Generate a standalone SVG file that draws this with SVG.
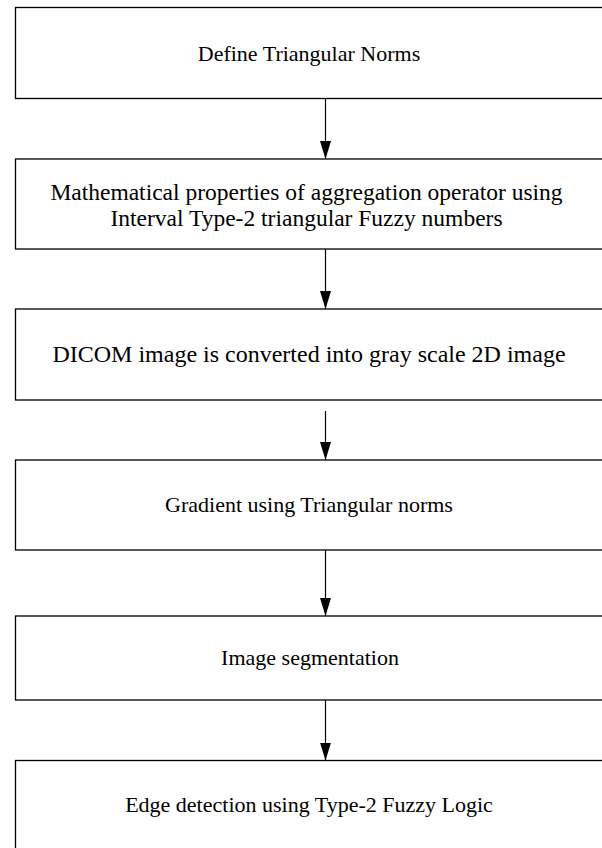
<svg xmlns="http://www.w3.org/2000/svg" width="602" height="848" viewBox="0 0 602 848">
  <style>
    .box { fill: #ffffff; stroke: #000000; stroke-width: 1.3; }
    .lbl { font-family: "Liberation Serif", "Times New Roman", serif; font-size: 22px; fill: #000000; text-anchor: middle; }
    .big { font-size: 24px; }
    .mid { font-size: 23.5px; }
    .conn { stroke: #000000; stroke-width: 1.2; fill: none; marker-end: url(#arrow); }
  </style>
  <defs>
    <marker id="arrow" viewBox="0 -6 18 12" refX="18" refY="0" markerWidth="18" markerHeight="12" markerUnits="userSpaceOnUse" orient="auto">
      <path d="M0,-5.5 L18,0 L0,5.5 Z" fill="#000000"/>
    </marker>
  </defs>
  <rect width="602" height="848" fill="#ffffff"/>

  <g id="node-define">
    <rect class="box" x="15.5" y="7.5" width="588" height="91"/>
    <text class="lbl" x="309" y="61">Define Triangular Norms</text>
  </g>
  <g id="node-math">
    <rect class="box" x="15.5" y="159" width="588" height="90"/>
    <text class="lbl mid" x="306.5" y="200">Mathematical properties of aggregation operator using</text>
    <text class="lbl mid" x="306.5" y="226">Interval Type-2 triangular Fuzzy numbers</text>
  </g>
  <g id="node-dicom">
    <rect class="box" x="15.5" y="309" width="588" height="91"/>
    <text class="lbl big" x="309" y="362">DICOM image is converted into gray scale 2D image</text>
  </g>
  <g id="node-gradient">
    <rect class="box" x="15.5" y="460" width="588" height="90"/>
    <text class="lbl" x="309" y="512">Gradient using Triangular norms</text>
  </g>
  <g id="node-segmentation">
    <rect class="box" x="15.5" y="616" width="588" height="84"/>
    <text class="lbl" x="310" y="665">Image segmentation</text>
  </g>
  <g id="node-edge">
    <rect class="box" x="15.5" y="760.5" width="588" height="91"/>
    <text class="lbl" x="309" y="812">Edge detection using Type-2 Fuzzy Logic</text>
  </g>

  <g id="connectors">
    <line class="conn" x1="325.5" y1="98.5" x2="325.5" y2="159"/>
    <line class="conn" x1="325.5" y1="249" x2="325.5" y2="309"/>
    <line class="conn" x1="325.5" y1="411" x2="325.5" y2="460"/>
    <line class="conn" x1="325.5" y1="550" x2="325.5" y2="616"/>
    <line class="conn" x1="325.5" y1="700" x2="325.5" y2="760.5"/>
  </g>
</svg>
